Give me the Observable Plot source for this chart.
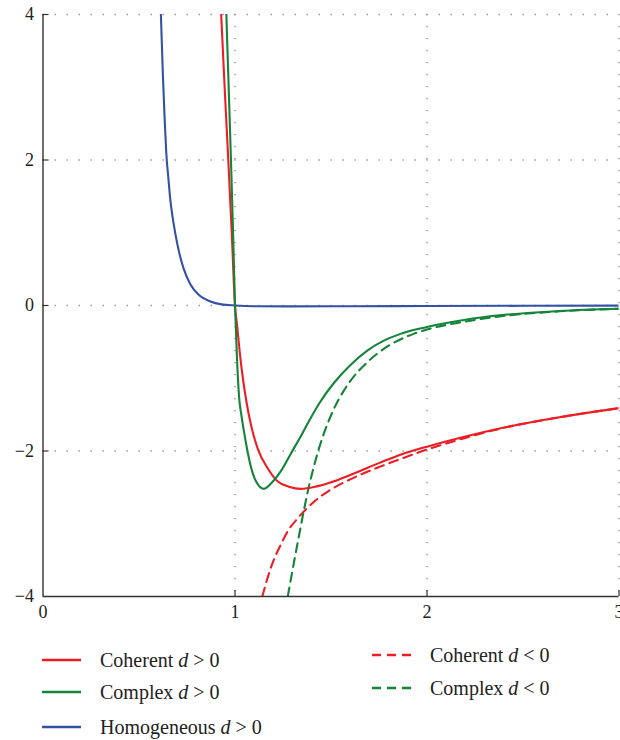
<!DOCTYPE html>
<html>
<head>
<meta charset="utf-8">
<script src="https://cdn.jsdelivr.net/npm/d3@7"></script>
<script src="https://cdn.jsdelivr.net/npm/@observablehq/plot@0.6"></script>
<style>
  html, body { margin: 0; padding: 0; background: #fff; }
  #wrap { position: relative; width: 620px; height: 740px; overflow: hidden; font-family: "Liberation Serif", "DejaVu Serif", serif; color: #222; }
  #legend { position: absolute; left: 0; top: 625px; width: 620px; height: 115px; }
  .item { position: absolute; display: flex; align-items: center; font-size: 20px; line-height: 22px; white-space: nowrap; }
  .item svg { margin-right: 19px; }
  .item i { font-style: italic; }
</style>
</head>
<body>
<div id="wrap">
  <div id="chart"></div>
  <div id="legend"></div>
</div>
<script>
// ---- data ----
const xTicks = [0, 1, 2, 3];
const yTicks = [-4, -2, 0, 2, 4];

const homogX = [0.614, 0.624, 0.633, 0.642, 0.653, 0.664, 0.677, 0.690, 0.71, 0.732, 0.768, 0.81, 0.872, 0.93, 1.0, 1.1, 1.3, 1.6, 2.0, 2.5, 3.0];
const homogY = [4, 3.2, 2.6, 2.1, 1.75, 1.43, 1.18, 0.976, 0.72, 0.51, 0.29, 0.15, 0.055, 0.015, 0, -0.01, -0.012, -0.01, -0.007, -0.004, -0.002];

const cohPosX = [0.928, 0.946, 0.965, 0.983, 1.0, 1.012, 1.025, 1.041, 1.06, 1.083, 1.12, 1.171, 1.223, 1.28, 1.342, 1.42, 1.5, 1.6, 1.756, 1.862, 2.0, 2.2, 2.378, 2.69, 3.0];
const cohPosY = [4, 3, 2, 1, 0, -0.3, -0.65, -1.0, -1.33, -1.64, -1.98, -2.24, -2.42, -2.49, -2.52, -2.49, -2.43, -2.33, -2.16, -2.05, -1.94, -1.80, -1.69, -1.535, -1.41];

const cohNegX = [1.142, 1.19, 1.238, 1.28, 1.325, 1.37, 1.41, 1.487, 1.6, 1.756, 1.862, 2.0, 2.2, 2.378, 2.69, 3.0];
const cohNegY = [-4, -3.58, -3.29, -3.08, -2.93, -2.80, -2.70, -2.55, -2.39, -2.215, -2.11, -1.98, -1.82, -1.695, -1.537, -1.41];

const cplxPosX = [0.955, 0.967, 0.979, 0.99, 1.0, 1.01, 1.021, 1.034, 1.048, 1.065, 1.083, 1.11, 1.15, 1.19, 1.238, 1.29, 1.342, 1.379, 1.44, 1.515, 1.6, 1.689, 1.77, 1.862, 2.0, 2.2, 2.378, 2.69, 3.0];
const cplxPosY = [4, 3, 2, 1, 0, -0.7, -1.25, -1.52, -1.75, -2.0, -2.22, -2.42, -2.52, -2.44, -2.28, -2.04, -1.80, -1.62, -1.34, -1.065, -0.82, -0.62, -0.49, -0.39, -0.295, -0.195, -0.135, -0.075, -0.045];

const cplxNegX = [1.275, 1.30, 1.325, 1.351, 1.377, 1.41, 1.445, 1.489, 1.515, 1.567, 1.6, 1.689, 1.79, 1.93, 2.0, 2.2, 2.378, 2.69, 3.0];
const cplxNegY = [-4, -3.63, -3.28, -2.92, -2.58, -2.22, -1.90, -1.58, -1.42, -1.17, -1.04, -0.78, -0.57, -0.39, -0.33, -0.22, -0.15, -0.08, -0.045];

const seriesNames = ["Coherent", "Complex", "Homogeneous", "Coherent", "Complex"];
const seriesSigns = [">", ">", ">", "<", "<"];
const seriesColors = ["#ee1d24", "#138438", "#3452a4", "#ee1d24", "#138438"];
const seriesDashed = [false, false, false, true, true];

// ---- build tables ----
const toRows = (xs, ys) => xs.map((x, i) => ({x, y: ys[i]}));
const series = [
  toRows(cohPosX, cohPosY),
  toRows(cplxPosX, cplxPosY),
  toRows(homogX, homogY),
  toRows(cohNegX, cohNegY),
  toRows(cplxNegX, cplxNegY)
];

const gridStyle = {stroke: "#8a8a8a", strokeOpacity: 1, strokeWidth: 1.3, strokeDasharray: "1.3,10.7"};

const lineMarks = series.map((rows, i) => Plot.line(rows, {
  x: "x", y: "y",
  stroke: seriesColors[i],
  strokeWidth: 2.1,
  strokeDasharray: seriesDashed[i] ? "9,6" : null,
  curve: "monotone-x",
  clip: true
}));
const order = [2, 3, 4, 0, 1];

const chart = Plot.plot({
  width: 620,
  height: 625,
  marginLeft: 42.5,
  marginRight: 1.5,
  marginTop: 14,
  marginBottom: 29,
  style: {fontFamily: "'Liberation Serif', 'DejaVu Serif', serif", fontSize: "17px", color: "#222", overflow: "visible"},
  x: {domain: [0, 3], label: null},
  y: {domain: [-4, 4], label: null},
  marks: [
    Plot.gridX(xTicks.slice(1), gridStyle),
    Plot.gridY(yTicks.slice(1), gridStyle),
    ...order.map(i => lineMarks[i]),
    Plot.ruleX([0], {stroke: "#333", strokeWidth: 1.4}),
    Plot.ruleY([-4], {stroke: "#333", strokeWidth: 1.4}),
    Plot.axisX({ticks: xTicks.slice(1), tickSize: -6, tickFormat: () => "", label: null, stroke: "#333", strokeWidth: 1.2}),
    Plot.axisY({ticks: yTicks.slice(1), tickSize: -6, tickFormat: () => "", label: null, stroke: "#333", strokeWidth: 1.2}),
    Plot.axisX({ticks: xTicks, tickSize: 0, tickPadding: 9, label: null, fontSize: 18, tickFormat: d3.format("d")}),
    Plot.axisY({ticks: yTicks, tickSize: 0, tickPadding: 9, label: null, fontSize: 18})
  ]
});
document.getElementById("chart").appendChild(chart);

// ---- legend ----
const legendPos = [
  {left: 42, top: 24},
  {left: 42, top: 56},
  {left: 42, top: 91},
  {left: 372, top: 19},
  {left: 372, top: 52}
];
const legend = document.getElementById("legend");
seriesNames.forEach((name, i) => {
  const d = document.createElement("div");
  d.className = "item";
  d.style.left = legendPos[i].left + "px";
  d.style.top = legendPos[i].top + "px";
  const dash = seriesDashed[i] ? ` stroke-dasharray="9,6"` : "";
  d.innerHTML = `<svg width="39" height="22"><line x1="0" y1="11" x2="39" y2="11" stroke="${seriesColors[i]}" stroke-width="2.4"${dash}/></svg>` +
    `<span>${name} <i>d</i> ${seriesSigns[i]} 0</span>`;
  legend.appendChild(d);
});
</script>
</body>
</html>
